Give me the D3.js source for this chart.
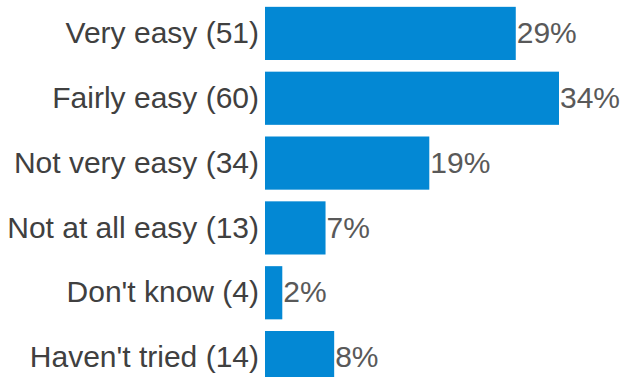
<!DOCTYPE html>
<html>
<head>
<meta charset="utf-8">
<script src="https://cdn.jsdelivr.net/npm/d3@7"></script>
<style>
  html, body { margin: 0; padding: 0; background: #fff; overflow: hidden; }
  svg { display: block; }
  text { font-family: "Liberation Sans", Arial, sans-serif; }
</style>
</head>
<body>
<svg id="chart" width="621" height="377"></svg>
<script>
// Survey answers and their share of responses
const categories = ["Very easy (51)", "Fairly easy (60)", "Not very easy (34)", "Not at all easy (13)", "Don't know (4)", "Haven't tried (14)"];
const percents = [29, 34, 19, 7, 2, 8];
const valueLabels = ["29%", "34%", "19%", "7%", "2%", "8%"];

const rows = categories.map((c, i) => ({ cat: c, pct: percents[i], label: valueLabels[i] }));

const svg = d3.select("#chart");

const x = d3.scaleLinear().domain([0, 34]).range([265, 559]);
const y = d3.scaleBand().domain(categories).range([1, 390]).paddingInner(0.18).paddingOuter(0.09);

// Bars
svg.append("g")
  .selectAll("rect")
  .data(rows)
  .join("rect")
  .attr("x", x(0))
  .attr("y", d => y(d.cat))
  .attr("width", d => x(d.pct) - x(0))
  .attr("height", y.bandwidth())
  .attr("fill", "#0388D4");

// Category axis on the left, no line or ticks
const yAxis = svg.append("g")
  .attr("transform", `translate(${x(0)},0)`)
  .call(d3.axisLeft(y).tickSize(0).tickPadding(6));
yAxis.attr("font-family", null).attr("font-size", null);
yAxis.select(".domain").remove();
yAxis.selectAll("text")
  .attr("font-size", 30)
  .attr("fill", "#404040")
  .attr("dy", "0.32em");

// Percentage labels at the end of each bar
svg.append("g")
  .selectAll("text")
  .data(rows)
  .join("text")
  .attr("x", d => x(d.pct) + 1)
  .attr("y", d => y(d.cat) + y.bandwidth() / 2)
  .attr("dy", "0.32em")
  .attr("font-size", 30)
  .attr("fill", "#595959")
  .text(d => d.label);
</script>
</body>
</html>
